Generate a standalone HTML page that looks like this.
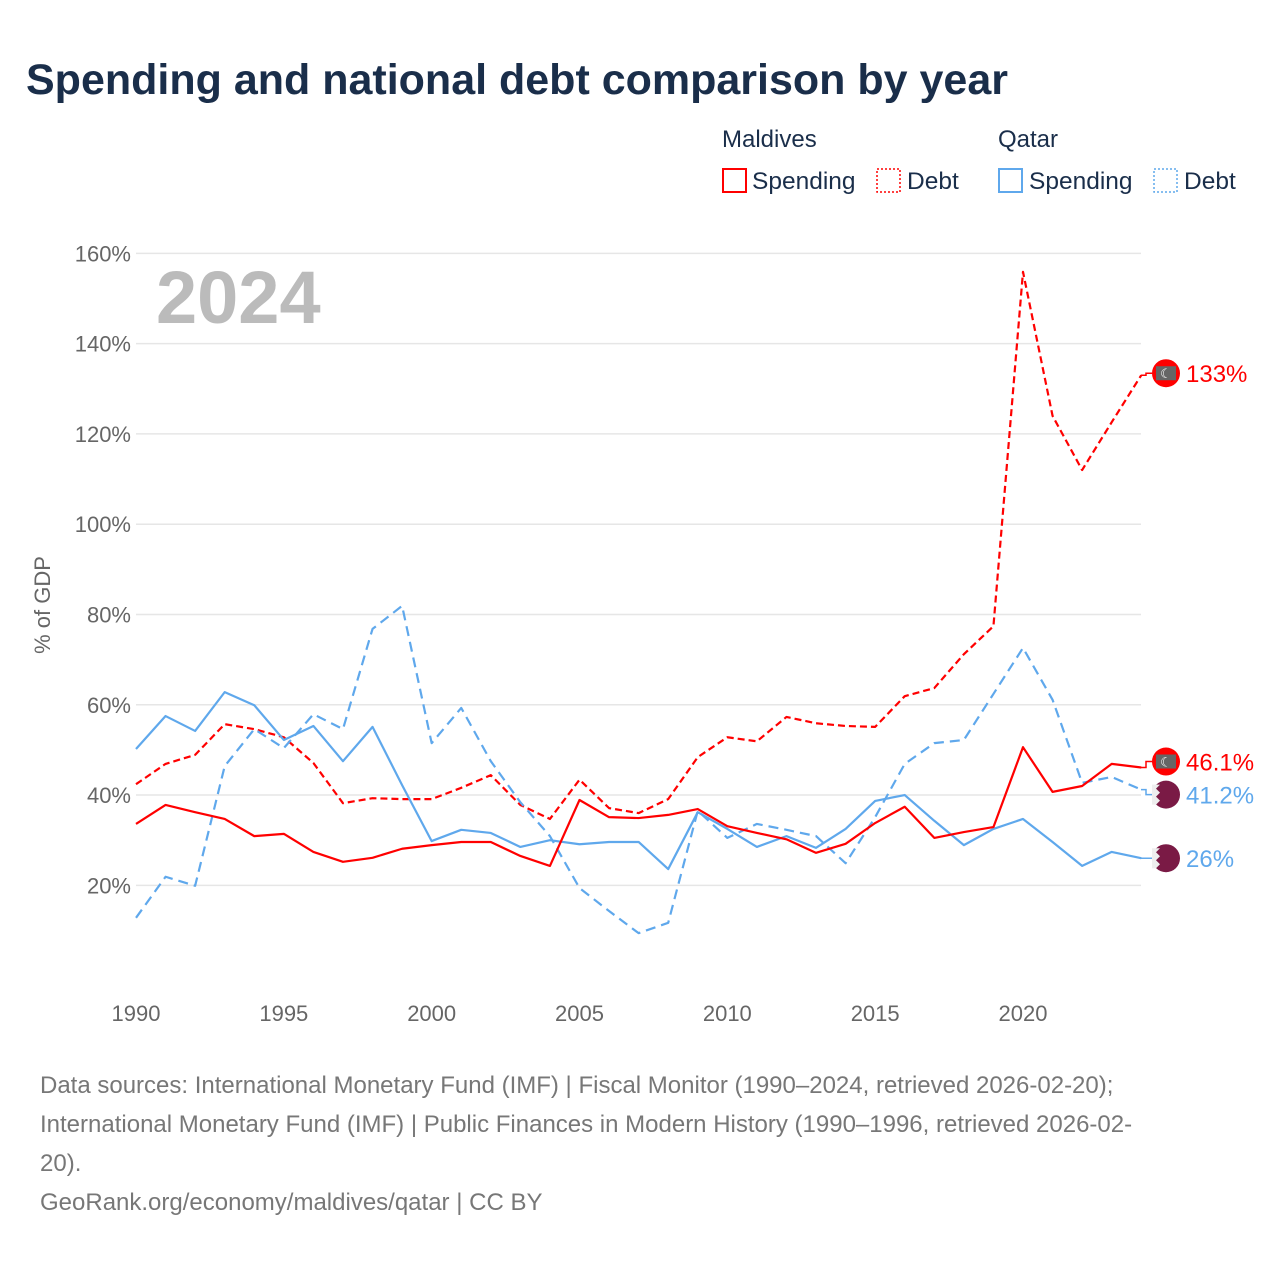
<!DOCTYPE html>
<html><head><meta charset="utf-8"><style>
body{margin:0;background:#fff;font-family:"Liberation Sans",sans-serif;}
svg text{font-family:"Liberation Sans",sans-serif;}
</style></head><body>
<svg id="chart" width="1280" height="1280" viewBox="0 0 1280 1280" xmlns="http://www.w3.org/2000/svg">
<text x="26" y="94" font-size="43" font-weight="bold" fill="#1a2e4a">Spending and national debt comparison by year</text>
<g>
<text x="722" y="147" font-size="24" fill="#1a2e4a">Maldives</text>
<text x="998" y="147" font-size="24" fill="#1a2e4a">Qatar</text>
<g><rect x="723" y="169" width="23" height="23" fill="none" stroke="#f00" stroke-width="2"/><text x="752" y="189" font-size="24.5" fill="#1a2e4a">Spending</text></g>
<g><rect x="877" y="169" width="23" height="23" fill="none" stroke="#f00" stroke-width="1.5" stroke-dasharray="2,2"/><text x="907" y="189" font-size="24.5" fill="#1a2e4a">Debt</text></g>
<g><rect x="999" y="169" width="23" height="23" fill="none" stroke="#5fa8ec" stroke-width="2"/><text x="1029" y="189" font-size="24.5" fill="#1a2e4a">Spending</text></g>
<g><rect x="1154" y="169" width="23" height="23" fill="none" stroke="#5fa8ec" stroke-width="1.5" stroke-dasharray="2,2"/><text x="1184" y="189" font-size="24.5" fill="#1a2e4a">Debt</text></g>
</g>
<g id="grid"></g>
<text x="156" y="323" font-size="74" font-weight="bold" fill="#bbb">2024</text>
<text transform="translate(50,605) rotate(-90)" text-anchor="middle" font-size="22" fill="#666">% of GDP</text>
<g id="series"></g>
<g id="labels"></g>
<g font-size="24" fill="#777">
<text x="40" y="1093">Data sources: International Monetary Fund (IMF) | Fiscal Monitor (1990–2024, retrieved 2026-02-20);</text>
<text x="40" y="1132">International Monetary Fund (IMF) | Public Finances in Modern History (1990–1996, retrieved 2026-02-</text>
<text x="40" y="1171">20).</text>
<text x="40" y="1210">GeoRank.org/economy/maldives/qatar | CC BY</text>
</g>
</svg>
<script>
const years=[];for(let y=1990;y<=2024;y++)years.push(y);
const yTicks=[20,40,60,80,100,120,140,160];
const xTicks=[1990,1995,2000,2005,2010,2015,2020];
const maldivesSpending=[33.6,37.8,36.2,34.7,30.9,31.4,27.4,25.2,26.1,28.1,28.9,29.6,29.6,26.5,24.3,38.9,35.1,34.9,35.6,36.9,33.1,31.6,30.2,27.2,29.2,33.8,37.4,30.5,31.8,32.9,50.6,40.7,42.0,46.9,46.1];
const maldivesDebt=[42.4,46.9,48.9,55.7,54.6,52.8,47.1,38.2,39.3,39.1,39.1,41.6,44.4,37.8,34.7,43.4,37.1,36.0,39.1,48.4,52.8,51.9,57.3,55.9,55.3,55.1,61.9,63.7,71.2,77.4,155.9,124,112,122.6,133];
const qatarSpending=[50.2,57.5,54.2,62.8,59.9,52.2,55.3,47.5,55.1,42.2,29.8,32.3,31.6,28.5,30.0,29.1,29.6,29.6,23.6,36.2,32.5,28.5,30.9,28.3,32.5,38.7,40.0,34.3,28.9,32.5,34.7,29.6,24.3,27.4,26];
const qatarDebt=[12.8,21.9,19.9,46.4,54.6,50.4,57.9,54.6,76.8,81.9,51.5,59.3,47.5,38.4,30.9,19.4,14.3,9.4,11.7,36.5,30.5,33.6,32.3,30.9,24.9,35.1,46.9,51.5,52.2,62.4,72.6,61.1,42.7,44.0,41.2];
const endLabels=["133%","46.1%","41.2%","26%"];
const NS="http://www.w3.org/2000/svg";
const xs=y=>136+(y-1990)*(1023-136)/30;
const ys=v=>975.6-v*4.514;
function mk(t,a,p){const e=document.createElementNS(NS,t);for(const k in a)e.setAttribute(k,a[k]);p.appendChild(e);return e;}
const grid=document.getElementById('grid');
yTicks.forEach(v=>{
 const l=mk('line',{x1:136,x2:1141,y1:ys(v),y2:ys(v),stroke:'#e6e6e6','stroke-width':1.5},grid);
 
 
 const t=mk('text',{x:131,y:ys(v)+8,'text-anchor':'end','font-size':22,fill:'#666'},grid);t.textContent=v+'%';
 
 
});
xTicks.forEach(y=>{
 const t=mk('text',{x:xs(y),y:1021,'text-anchor':'middle','font-size':22,fill:'#666'},grid);t.textContent=y;
 
 
});
const ser=document.getElementById('series'),lab=document.getElementById('labels');
const defs=[
 [maldivesDebt,'#f00','7,4','maldives-debt','m',endLabels[0],-2],
 [qatarDebt,'#5fa8ec','10,6','qatar-debt','q',endLabels[2],5],
 [qatarSpending,'#5fa8ec',null,'qatar-spending','q',endLabels[3],0],
 [maldivesSpending,'#f00',null,'maldives-spending','m',endLabels[1],-6]
];
defs.forEach(([d,c,dash,name,flag,lbl,off])=>{
 const pts=d.map((v,i)=>xs(years[i])+','+ys(v)).join(' ');
 const a={points:pts,fill:'none',stroke:c,'stroke-width':2.2,'stroke-linejoin':'round'};
 if(dash)a['stroke-dasharray']=dash;
 const p=mk('polyline',a,ser);
 
 
 const y0=ys(d[d.length-1]);const yy=y0+off;
 const g=mk('g',{},lab);
 
 
 mk('polyline',{points:`1141,${y0} 1146,${y0} 1146,${yy} 1152,${yy}`,fill:'none',stroke:c,'stroke-width':1.5},g);
 if(flag==='m'){
  mk('circle',{cx:1166,cy:yy,r:14,fill:'#f00'},g);
  mk('rect',{x:1156,y:yy-7,width:20,height:14,fill:'#666'},g);
  const t0=mk('text',{x:1166,y:yy+5,'text-anchor':'middle','font-size':13,fill:'#fff'},g);t0.textContent='☾';
 } else {
  mk('circle',{cx:1166,cy:yy,r:14,fill:'#7a1a45'},g);
  mk('path',{d:`M1152 ${yy-10} L1160 ${yy-10} L1156 ${yy-6} L1160 ${yy-2} L1156 ${yy+2} L1160 ${yy+6} L1156 ${yy+10} L1152 ${yy+10}Z`,fill:'#eee'},g);
 }
 const t=mk('text',{x:1186,y:yy+9,'font-size':24,fill:c},g);t.textContent=lbl;
});
</script>
</body></html>
